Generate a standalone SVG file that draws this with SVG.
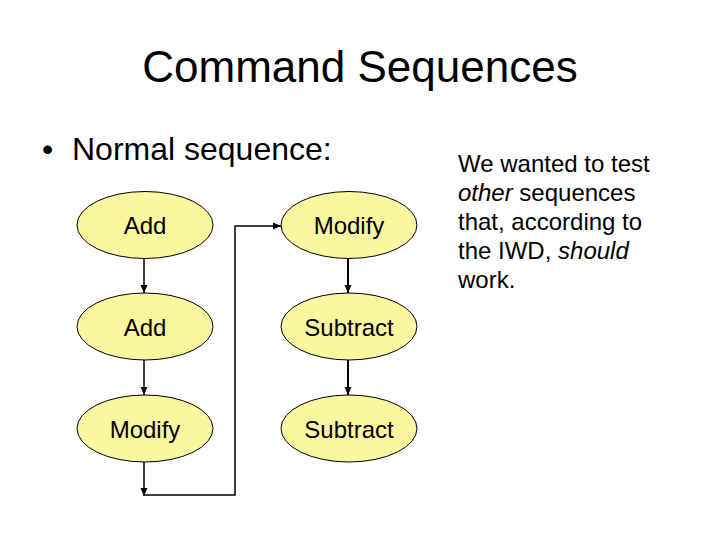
<svg xmlns="http://www.w3.org/2000/svg" width="720" height="540" viewBox="0 0 720 540">
<style>
text{font-family:"Liberation Sans",Arial,sans-serif;fill:#000}
.node ellipse{fill:#FBF6A0;stroke:#000;stroke-width:1}
.node text{font-size:24px;text-anchor:middle}
.conn{fill:none;stroke:#000;stroke-width:1.5}
.thick{stroke-width:2}
.body{font-size:24px}
</style>
<defs>
<marker id="arr" markerWidth="8" markerHeight="8" viewBox="0 0 8 8" refX="8" refY="4" orient="auto" markerUnits="userSpaceOnUse">
<path d="M0,0.5 L8,4 L0,7.5 Z" fill="#000"/>
</marker>
</defs>
<rect width="720" height="540" fill="#fff"/>
<text x="360" y="82" font-size="44" text-anchor="middle">Command Sequences</text>
<text x="42" y="160" font-size="32">•</text>
<text x="72" y="160" font-size="32">Normal sequence:</text>
<g id="connectors">
<path class="conn" d="M144,258 V293" marker-end="url(#arr)"/>
<path class="conn" d="M144,360 V395" marker-end="url(#arr)"/>
<path class="conn" d="M144,462 V496" marker-end="url(#arr)"/>
<path class="conn" d="M144,495 H235 V226 H281" marker-end="url(#arr)"/>
<path class="conn thick" d="M348,258 V293" marker-end="url(#arr)"/>
<path class="conn thick" d="M348,360 V395" marker-end="url(#arr)"/>
</g>
<g id="n1" class="node"><ellipse cx="145" cy="225" rx="68" ry="33.5"/><text x="145" y="234">Add</text></g>
<g id="n2" class="node"><ellipse cx="145" cy="326.5" rx="68" ry="33.5"/><text x="145" y="335.5">Add</text></g>
<g id="n3" class="node"><ellipse cx="145" cy="428.5" rx="68" ry="33.5"/><text x="145" y="437.5">Modify</text></g>
<g id="n4" class="node"><ellipse cx="349" cy="225" rx="68" ry="33.5"/><text x="349" y="234">Modify</text></g>
<g id="n5" class="node"><ellipse cx="349" cy="326.5" rx="68" ry="33.5"/><text x="349" y="335.5">Subtract</text></g>
<g id="n6" class="node"><ellipse cx="349" cy="428.5" rx="68" ry="33.5"/><text x="349" y="437.5">Subtract</text></g>
<g id="note" class="body">
<text x="458" y="172">We wanted to test</text>
<text x="458" y="201"><tspan font-style="italic">other</tspan> sequences</text>
<text x="458" y="230">that, according to</text>
<text x="458" y="259">the IWD, <tspan font-style="italic">should</tspan></text>
<text x="458" y="288">work.</text>
</g>
</svg>
